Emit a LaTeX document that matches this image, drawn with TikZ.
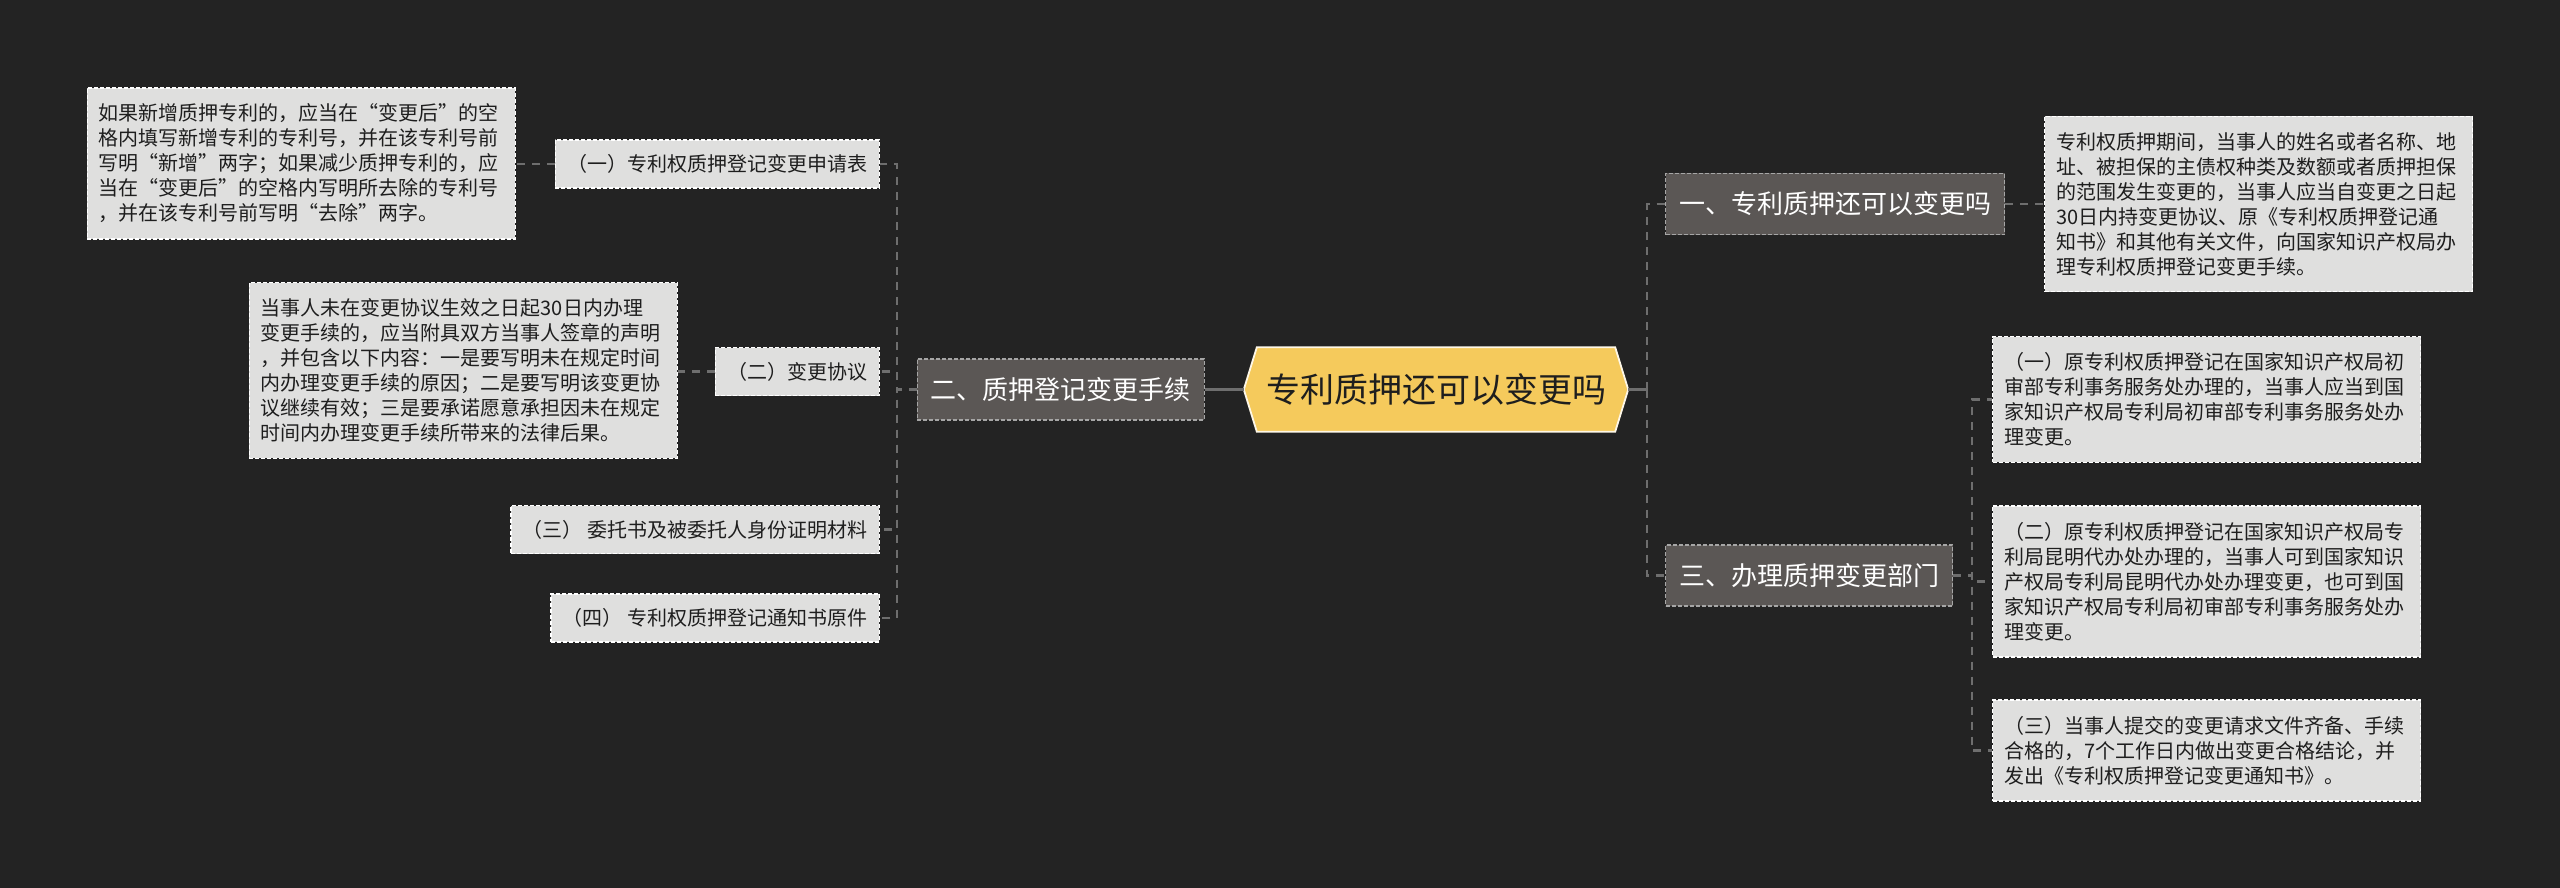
\documentclass[tikz,border=0pt]{standalone}
\usepackage{fontspec}
\setmainfont{Noto Sans CJK SC}
\pgfdeclarelayer{back}
\pgfdeclarelayer{background}
\pgfsetlayers{back,background,main}
\definecolor{bgc}{HTML}{232323}
\definecolor{lightfill}{HTML}{DFDFDE}
\definecolor{darkfill}{HTML}{5B5755}
\definecolor{hexfill}{HTML}{F5CA5C}
\definecolor{connc}{HTML}{6E6E6E}
\definecolor{txtdark}{HTML}{1E1E1E}
\tikzset{
  tbox/.style={fill=lightfill, draw=white, dash pattern=on 4pt off 2pt, line width=1.3pt,
    text=txtdark, font=\fontsize{20pt}{25pt}\selectfont, align=left, text width=405pt,
    inner xsep=11.5pt, inner ysep=16pt},
  subbox/.style={fill=lightfill, draw=white, dash pattern=on 4pt off 2pt, line width=1.3pt,
    text=txtdark, font=\fontsize{20pt}{25pt}\selectfont, inner xsep=12pt, inner ysep=0pt,
    minimum height=48pt},
  mainbox/.style={fill=darkfill, draw=gray!70, dash pattern=on 4pt off 2pt, line width=1.2pt,
    text=white, font=\fontsize{26pt}{30pt}\selectfont, inner xsep=13.5pt, inner ysep=0pt,
    minimum height=61pt},
  centerbox/.style={text=txtdark, font=\fontsize{34pt}{40pt}\selectfont, minimum width=358pt,
    minimum height=84pt, inner sep=0pt},
  conn/.style={draw=connc, line width=2.2pt, dash pattern=on 8pt off 7pt},
  solidconn/.style={draw=connc, line width=2.6pt}
}
\begin{document}
\begin{tikzpicture}[x=1pt, y=-1pt]
\useasboundingbox (0,0) rectangle (2560,888);
\begin{pgfonlayer}{back}
\fill[bgc] (0,0) rectangle (2560,888);
\end{pgfonlayer}

% center
\node[centerbox] (c) at (1436,389.5) {专利质押还可以变更吗};
\coordinate (cl) at ([xshift=-13pt]c.west);
\coordinate (cr) at ([xshift=13pt]c.east);
\begin{pgfonlayer}{background}
\draw[fill=hexfill, draw=white!85!hexfill, line width=1.8pt, line join=miter]
  (c.north west) -- (c.north east) -- (cr) -- (c.south east) -- (c.south west) -- (cl) -- cycle;
\end{pgfonlayer}

% left branch
\node[mainbox, anchor=east] (L) at (1205,389.5) {二、质押登记变更手续};
\node[subbox, anchor=east] (a1) at (880,164) {（一）专利权质押登记变更申请表};
\node[subbox, anchor=east] (a2) at (880,371.5) {（二）变更协议};
\node[subbox, anchor=east] (a3) at (880,529.5) {（三） 委托书及被委托人身份证明材料};
\node[subbox, anchor=east] (a4) at (880,618) {（四） 专利权质押登记通知书原件};

\node[tbox, anchor=east] (t1) at (516,163.5) {如果新增质押专利的，应当在“变更后”的空\\
格内填写新增专利的专利号，并在该专利号前\\
写明“新增”两字；如果减少质押专利的，应\\
当在“变更后”的空格内写明所去除的专利号\\
，并在该专利号前写明“去除”两字。};

\node[tbox, anchor=east] (t2) at (678,370.5) {当事人未在变更协议生效之日起30日内办理\\
变更手续的，应当附具双方当事人签章的声明\\
，并包含以下内容：一是要写明未在规定时间\\
内办理变更手续的原因；二是要写明该变更协\\
议继续有效；三是要承诺愿意承担因未在规定\\
时间内办理变更手续所带来的法律后果。};

% right branch
\node[mainbox, anchor=west] (b1) at (1665,204) {一、专利质押还可以变更吗};
\node[mainbox, anchor=west] (b3) at (1665,575.5) {三、办理质押变更部门};

\node[tbox, anchor=west] (r1) at (2044,204) {专利权质押期间，当事人的姓名或者名称、地\\
址、被担保的主债权种类及数额或者质押担保\\
的范围发生变更的，当事人应当自变更之日起\\
30日内持变更协议、原《专利权质押登记通\\
知书》和其他有关文件，向国家知识产权局办\\
理专利权质押登记变更手续。};

\node[tbox, anchor=west] (r2) at (1992,399.5) {（一）原专利权质押登记在国家知识产权局初\\
审部专利事务服务处办理的，当事人应当到国\\
家知识产权局专利局初审部专利事务服务处办\\
理变更。};

\node[tbox, anchor=west] (r3) at (1992,581.5) {（二）原专利权质押登记在国家知识产权局专\\
利局昆明代办处办理的，当事人可到国家知识\\
产权局专利局昆明代办处办理变更，也可到国\\
家知识产权局专利局初审部专利事务服务处办\\
理变更。};

\node[tbox, anchor=west] (r4) at (1992,750.5) {（三）当事人提交的变更请求文件齐备、手续\\
合格的，7个工作日内做出变更合格结论，并\\
发出《专利权质押登记变更通知书》。};

% connectors
\begin{pgfonlayer}{background}
\draw[solidconn] (cl) -- (L.east);
\draw[conn] (L.west) -- ++(-20,0) |- (a1.east);
\draw[conn] (L.west) -- ++(-20,0) |- (a2.east);
\draw[conn] (L.west) -- ++(-20,0) |- (a3.east);
\draw[conn] (L.west) -- ++(-20,0) |- (a4.east);
\draw[conn] (a1.west) -- (a1.west -| t1.east);
\draw[conn] (a2.west) -- (a2.west -| t2.east);

\draw[solidconn] (cr) -- ++(19,0) coordinate (rj);
\draw[conn] (rj) |- (b1.west);
\draw[conn] (rj) |- (b3.west);
\draw[conn] (b1.east) -- (b1.east -| r1.west);
\draw[conn] (b3.east) -- ++(19,0) |- (r2.west);
\draw[conn] (b3.east) -- ++(19,0) |- (r3.west);
\draw[conn] (b3.east) -- ++(19,0) |- (r4.west);
\end{pgfonlayer}
\end{tikzpicture}
\end{document}
